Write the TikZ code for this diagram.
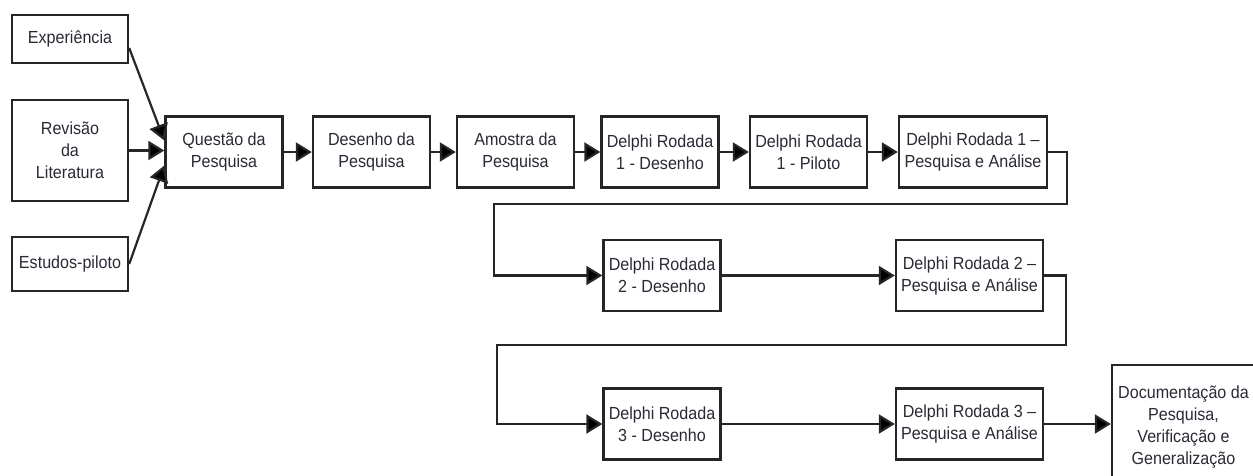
\documentclass[tikz,border=0pt]{standalone}
\usepackage{fontspec}
\setmainfont{Liberation Sans}[FakeStretch=0.92]
\usetikzlibrary{arrows.meta,calc}
\definecolor{ink}{HTML}{262626}
\definecolor{txt}{HTML}{2A2A36}
\begin{document}
\begin{tikzpicture}[x=1pt,y=1pt,
  box/.style={draw=ink,line width=2.4pt,fill=white,align=center,inner sep=0pt,
    text=txt,font=\fontsize{17.5}{22}\selectfont,minimum width=117pt,minimum height=71pt},
  wbox/.style={box,minimum width=148pt},
  link/.style={draw=ink,line width=2.2pt,-{Triangle[length=16pt,width=19pt,fill=black]}},
  wire/.style={draw=ink,line width=2.2pt}]
\useasboundingbox (0,0) rectangle (1253,-475);
\clip (0,0) rectangle (1253,-475);

% inputs on the left
\node[box,minimum width=116pt,minimum height=48pt] (exp) at (70,-39) {Experiência};
\node[box,minimum width=116pt,minimum height=101pt] (rev) at (70,-150.5) {Revisão\\da\\Literatura};
\node[box,minimum width=116pt,minimum height=54pt] (est) at (70,-264) {Estudos-piloto};

% first row
\node[box] (q)   at (224,-152)   {Questão da\\Pesquisa};
\node[box] (des) at (371.5,-152) {Desenho da\\Pesquisa};
\node[box] (amo) at (515.5,-152) {Amostra da\\Pesquisa};
\node[box] (d1d) at (660,-152)   {Delphi Rodada\\1 - Desenho};
\node[box] (d1p) at (808.5,-152) {Delphi Rodada\\1 - Piloto};
\node[wbox] (d1a) at (973,-152)  {Delphi Rodada 1 –\\Pesquisa e Análise};

% second row
\node[box] (d2d) at (662,-275.5)    {Delphi Rodada\\2 - Desenho};
\node[wbox,minimum width=147pt] (d2a) at (969.5,-275.5) {Delphi Rodada 2 –\\Pesquisa e Análise};

% third row
\node[box] (d3d) at (662,-424)      {Delphi Rodada\\3 - Desenho};
\node[wbox,minimum width=147pt] (d3a) at (969.5,-424) {Delphi Rodada 3 –\\Pesquisa e Análise};
\node[box,minimum width=143pt,minimum height=125pt] (doc) at (1183.5,-427.5)
  {Documentação da\\Pesquisa,\\Verificação e\\Generalização};

% bend points of the return lines
\coordinate (r1a) at (1067,-204);
\coordinate (r1b) at (494,-204);
\coordinate (r2a) at (1066,-345);
\coordinate (r2b) at (497,-345);

% converging inputs
\draw[link] ($(exp.east)+(0,-9)$) -- ($(q.west)+(0,11.5)$);
\draw[link] (rev.east) -- (rev.east -| q.west);
\draw[link] (est.east) -- ($(q.west)+(0,-13.5)$);

% first row chain
\draw[link] (q) -- (des);
\draw[link] (des) -- (amo);
\draw[link] (amo) -- (d1d);
\draw[link] (d1d) -- (d1p);
\draw[link] (d1p) -- (d1a);

% return to second row
\draw[link] (d1a.east) -| (r1a) -- (r1b) |- (d2d.west);
\draw[link] (d2d) -- (d2a);

% return to third row
\draw[link] (d2a.east) -| (r2a) -- (r2b) |- (d3d.west);
\draw[link] (d3d) -- (d3a);
\draw[link] (d3a.east) -- (d3a.east -| doc.west);
\end{tikzpicture}
\end{document}
